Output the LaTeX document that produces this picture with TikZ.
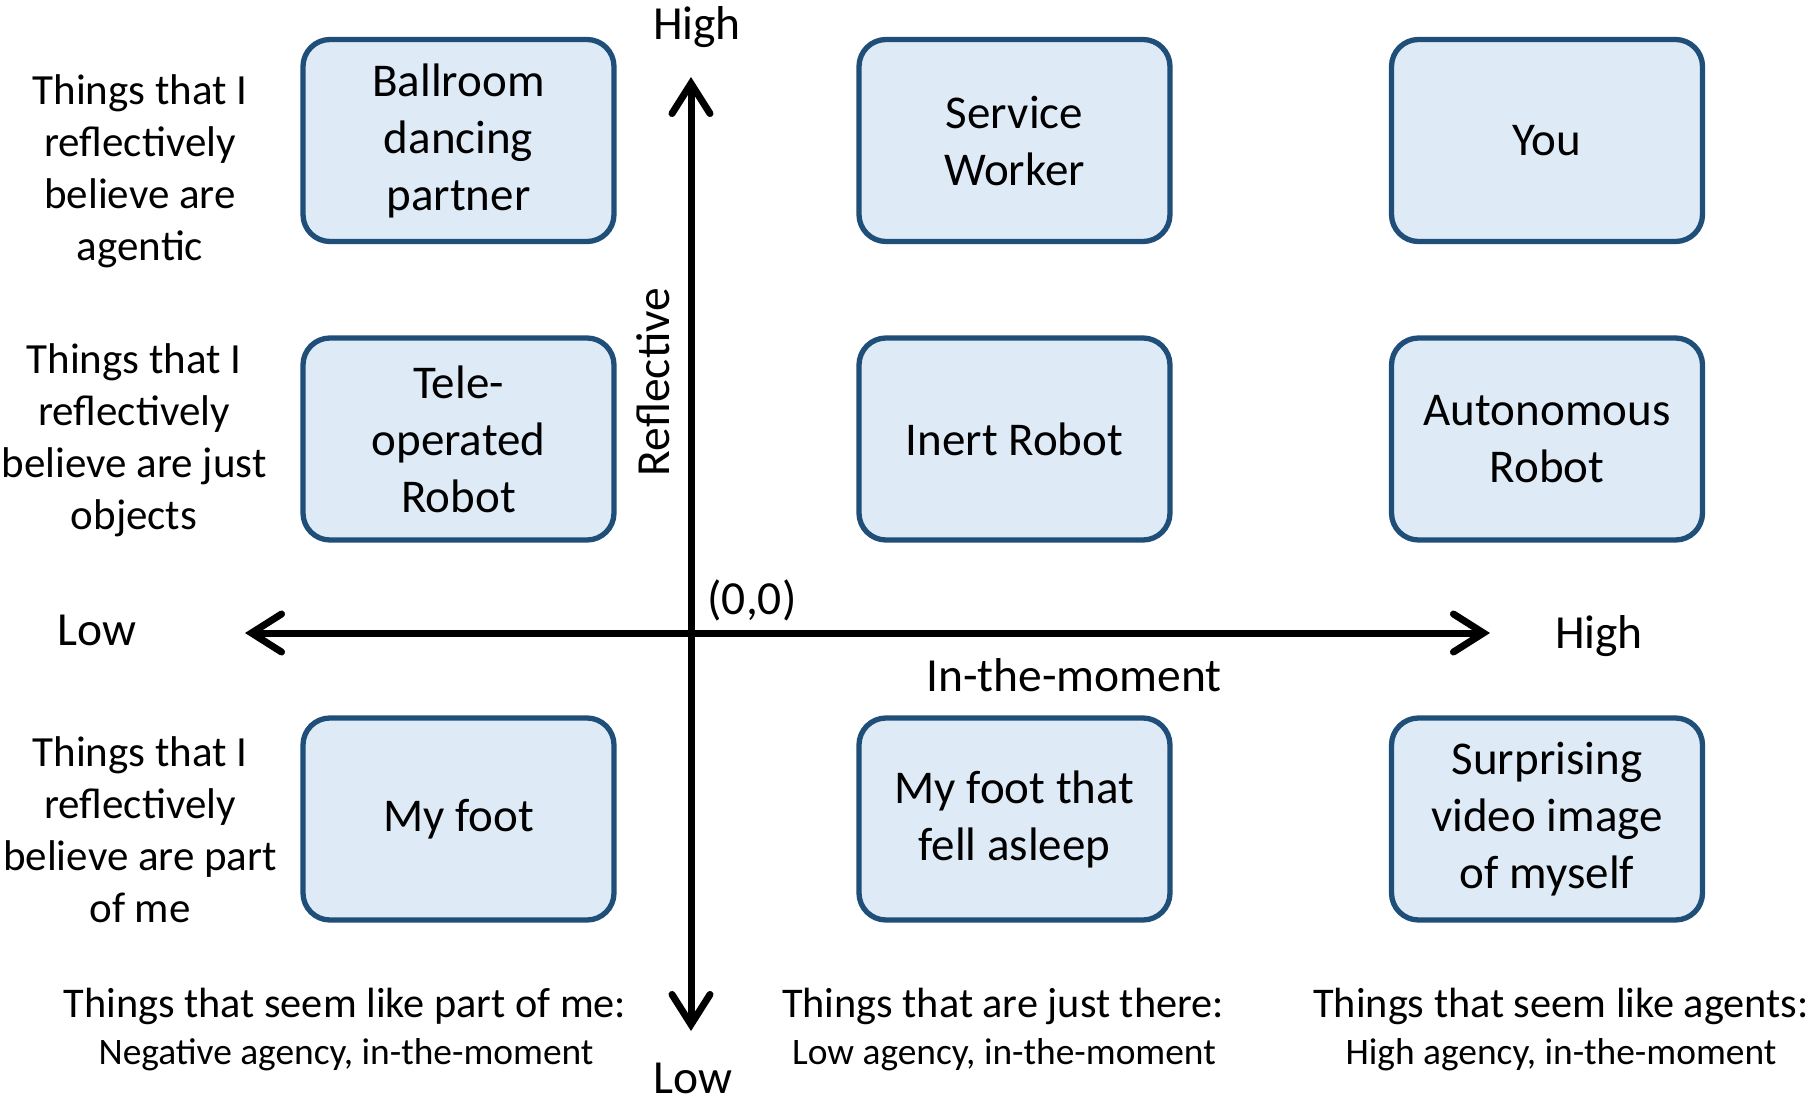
\documentclass[tikz,border=0pt]{standalone}
\usepackage{fontspec}
\setmainfont{Carlito}
\usetikzlibrary{arrows.meta}
\definecolor{boxfill}{RGB}{222,234,246}
\definecolor{boxline}{RGB}{31,78,121}
\begin{document}
\begin{tikzpicture}[x=1pt,y=-1pt,
  cell/.style={draw=boxline, fill=boxfill, line width=5.3pt, rounded corners=27pt,
    minimum width=311pt, minimum height=202pt, align=center, inner sep=0pt,
    font=\fontsize{47}{57}\selectfont},
  rowlabel/.style={align=center, inner sep=0pt, font=\fontsize{43}{52}\selectfont},
  axislabel/.style={inner sep=0pt, font=\fontsize{47.5}{57}\selectfont},
  headline/.style={inner sep=0pt, font=\fontsize{42.3}{50}\selectfont},
  subline/.style={inner sep=0pt, font=\fontsize{37.4}{45}\selectfont},
  axis/.style={line width=7pt, -{Straight Barb[length=30pt, width=38pt, line cap=round, line width=7pt]}}
]
\useasboundingbox (0,0) rectangle (1816,1103);

% axes
\coordinate (origin) at (691,633);
\coordinate (ytop) at (691,77);
\coordinate (ybot) at (691,1031);
\coordinate (xleft) at (245,633);
\coordinate (xright) at (1490,633);
\draw[axis] (origin) -- (ytop);
\draw[axis] (origin) -- (ybot);
\draw[axis] (origin) -- (xleft);
\draw[axis] (origin) -- (xright);

% axis labels
\node[axislabel] (yhigh) at (697,27) {High};
\node[axislabel] (ylow) at (693,1078) {Low};
\node[axislabel] (xlow) at (97,630) {Low};
\node[axislabel] (xhigh) at (1599,636) {High};
\node[axislabel] (zero) at (752,600) {(0,0)};
\node[axislabel] (xname) at (1074,675) {In-the-moment};
\node[axislabel, rotate=90] (yname) at (653,382) {Reflective};

% cells
\node[cell] (b11) at (458.5,140.5) {Ballroom\\dancing\\partner};
\node[cell] (b12) at (1014.5,140.5) {Service\\Worker};
\node[cell] (b13) at (1547,140.5) {You};
\node[cell] (b21) at (458.5,439) {Tele-\\operated\\Robot};
\node[cell] (b22) at (1014.5,439) {Inert Robot};
\node[cell] (b23) at (1547,439) {Autonomous\\Robot};
\node[cell] (b31) at (458.5,819) {My foot};
\node[cell] (b32) at (1014.5,819) {My foot that\\fell asleep};
\node[cell] (b33) at (1547,819) {Surprising\\video image\\of myself};

% row descriptions
\node[rowlabel] (r1) at (140,171) {Things that I\\reflectively\\believe are\\agentic};
\node[rowlabel] (r2) at (134,440) {Things that I\\reflectively\\believe are just\\objects};
\node[rowlabel] (r3) at (140,830) {Things that I\\reflectively\\believe are part\\of me};

% column descriptions
\node[headline] (c1a) at (345,1006) {Things that seem like part of me:};
\node[subline] (c1b) at (346,1055) {Negative agency, in-the-moment};
\node[headline] (c2a) at (1003,1006) {Things that are just there:};
\node[subline] (c2b) at (1004,1055) {Low agency, in-the-moment};
\node[headline] (c3a) at (1561,1006) {Things that seem like agents:};
\node[subline] (c3b) at (1561,1055) {High agency, in-the-moment};
\end{tikzpicture}
\end{document}
